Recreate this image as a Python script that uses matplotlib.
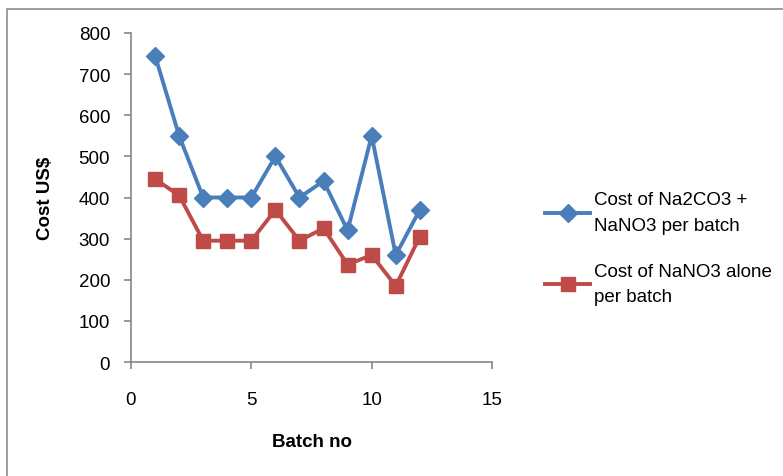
import matplotlib
matplotlib.use("Agg")
import matplotlib.pyplot as plt
from matplotlib import patches as mpatches

batch = [1, 2, 3, 4, 5, 6, 7, 8, 9, 10, 11, 12]
cost_both = [745, 550, 400, 400, 400, 500, 400, 440, 320, 550, 260, 370]
cost_nano3 = [445, 405, 295, 295, 295, 370, 295, 325, 237, 260, 185, 305]

label_both = "Cost of Na2CO3 +\nNaNO3 per batch"
label_nano3 = "Cost of NaNO3 alone\nper batch"

plt.rcParams["font.family"] = ["Liberation Sans", "DejaVu Sans"]

W, H = 783, 477
fig = plt.figure(figsize=(W / 100, H / 100), dpi=100)

# outer chart frame
frame = mpatches.Rectangle((7 / W, -0.1), 1.2, 1 - 10 / H + 0.1, transform=fig.transFigure,
                           fill=False, ec="#8c8c8c", lw=1.2)
fig.patches.append(frame)

ax = fig.add_axes([131 / W, 1 - 363 / H, (492 - 131) / W, (363 - 34) / H])

ax.plot(batch, cost_both, color="#4A7EBB", lw=2.8, marker="D", ms=9,
        label=label_both, clip_on=False)
ax.plot(batch, cost_nano3, color="#BE4B48", lw=2.8, marker="s", ms=10,
        label=label_nano3, clip_on=False)

ax.set_xlim(0, 15)
ax.set_ylim(0, 800)
ax.set_xticks([0, 5, 10, 15])
ax.set_yticks(range(0, 801, 100))

for s in ["top", "right"]:
    ax.spines[s].set_visible(False)
for s in ["left", "bottom"]:
    ax.spines[s].set_color("#868686")
    ax.spines[s].set_linewidth(1.2)
ax.tick_params(direction="out", length=5, width=1.2, color="#868686",
               labelsize=13.5)
ax.tick_params(axis="x", pad=16)
ax.tick_params(axis="y", pad=10)

ax.set_xlabel("Batch no", fontsize=13.5, fontweight="bold", labelpad=18)
ax.set_ylabel("Cost US$", fontsize=13.5, fontweight="bold", labelpad=18)

leg = fig.legend(loc="upper left", bbox_to_anchor=(536 / W, 1 - 183 / H), frameon=False,
                 fontsize=13.5, handlelength=2.4, handletextpad=0.2,
                 labelspacing=1.55, borderpad=0)
for t in leg.get_texts():
    t.set_linespacing(1.65)

fig.savefig("out.png", dpi=100)
